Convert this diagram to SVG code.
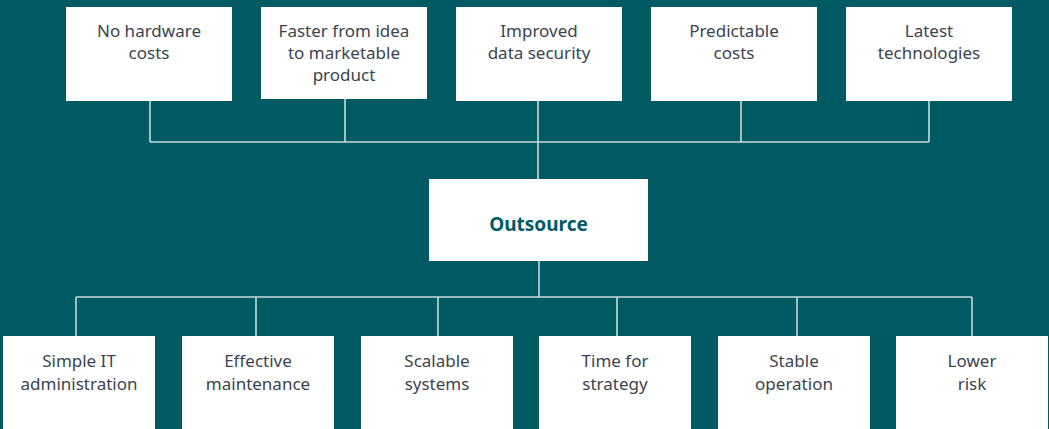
<svg xmlns="http://www.w3.org/2000/svg" width="1049" height="429" viewBox="0 0 1049 429">
  <style>
    .box { fill: #ffffff; }
    .lbl { font-family: "Noto Sans", "Open Sans", sans-serif; font-size: 17px; fill: #3b4450; text-anchor: middle; }
    .hub { font-family: "Noto Sans", "Open Sans", sans-serif; font-size: 19px; font-weight: bold; fill: #005a63; text-anchor: middle; }
    .wire { stroke: #c7dadb; stroke-width: 1.6; fill: none; }
  </style>
  <rect width="1049" height="429" fill="#005a63"/>

  <g id="connectors">
    <path class="wire" d="M150 101 V142 M345 99 V142 M538 101 V179 M741 101 V142 M929 101 V142 M150 142 H929"/>
    <path class="wire" d="M539 261 V297 M76 297 H972 M76 297 V336 M256 297 V336 M438 297 V336 M617 297 V336 M797 297 V336 M972 297 V336"/>
  </g>

  <g id="no-hardware-costs">
    <rect class="box" x="66" y="7" width="166" height="94"/>
    <text class="lbl" x="149" y="37">No hardware</text>
    <text class="lbl" x="149" y="59">costs</text>
  </g>
  <g id="faster-to-market">
    <rect class="box" x="261" y="7" width="166" height="92"/>
    <text class="lbl" x="344" y="37">Faster from idea</text>
    <text class="lbl" x="344" y="59">to marketable</text>
    <text class="lbl" x="344" y="81">product</text>
  </g>
  <g id="data-security">
    <rect class="box" x="456" y="7" width="166" height="94"/>
    <text class="lbl" x="539" y="37">Improved</text>
    <text class="lbl" x="539" y="59">data security</text>
  </g>
  <g id="predictable-costs">
    <rect class="box" x="651" y="7" width="166" height="94"/>
    <text class="lbl" x="734" y="37">Predictable</text>
    <text class="lbl" x="734" y="59">costs</text>
  </g>
  <g id="latest-technologies">
    <rect class="box" x="846" y="7" width="166" height="94"/>
    <text class="lbl" x="929" y="37">Latest</text>
    <text class="lbl" x="929" y="59">technologies</text>
  </g>

  <g id="outsource">
    <rect class="box" x="429" y="179" width="219" height="82"/>
    <text class="hub" x="538.5" y="231">Outsource</text>
  </g>

  <g id="simple-it">
    <rect class="box" x="3" y="336" width="152" height="100"/>
    <text class="lbl" x="79" y="367">Simple IT</text>
    <text class="lbl" x="79" y="390">administration</text>
  </g>
  <g id="effective-maintenance">
    <rect class="box" x="182" y="336" width="152" height="100"/>
    <text class="lbl" x="258" y="367">Effective</text>
    <text class="lbl" x="258" y="390">maintenance</text>
  </g>
  <g id="scalable-systems">
    <rect class="box" x="361" y="336" width="152" height="100"/>
    <text class="lbl" x="437" y="367">Scalable</text>
    <text class="lbl" x="437" y="390">systems</text>
  </g>
  <g id="time-for-strategy">
    <rect class="box" x="539" y="336" width="152" height="100"/>
    <text class="lbl" x="615" y="367">Time for</text>
    <text class="lbl" x="615" y="390">strategy</text>
  </g>
  <g id="stable-operation">
    <rect class="box" x="718" y="336" width="152" height="100"/>
    <text class="lbl" x="794" y="367">Stable</text>
    <text class="lbl" x="794" y="390">operation</text>
  </g>
  <g id="lower-risk">
    <rect class="box" x="896" y="336" width="152" height="100"/>
    <text class="lbl" x="972" y="367">Lower</text>
    <text class="lbl" x="972" y="390">risk</text>
  </g>
</svg>
